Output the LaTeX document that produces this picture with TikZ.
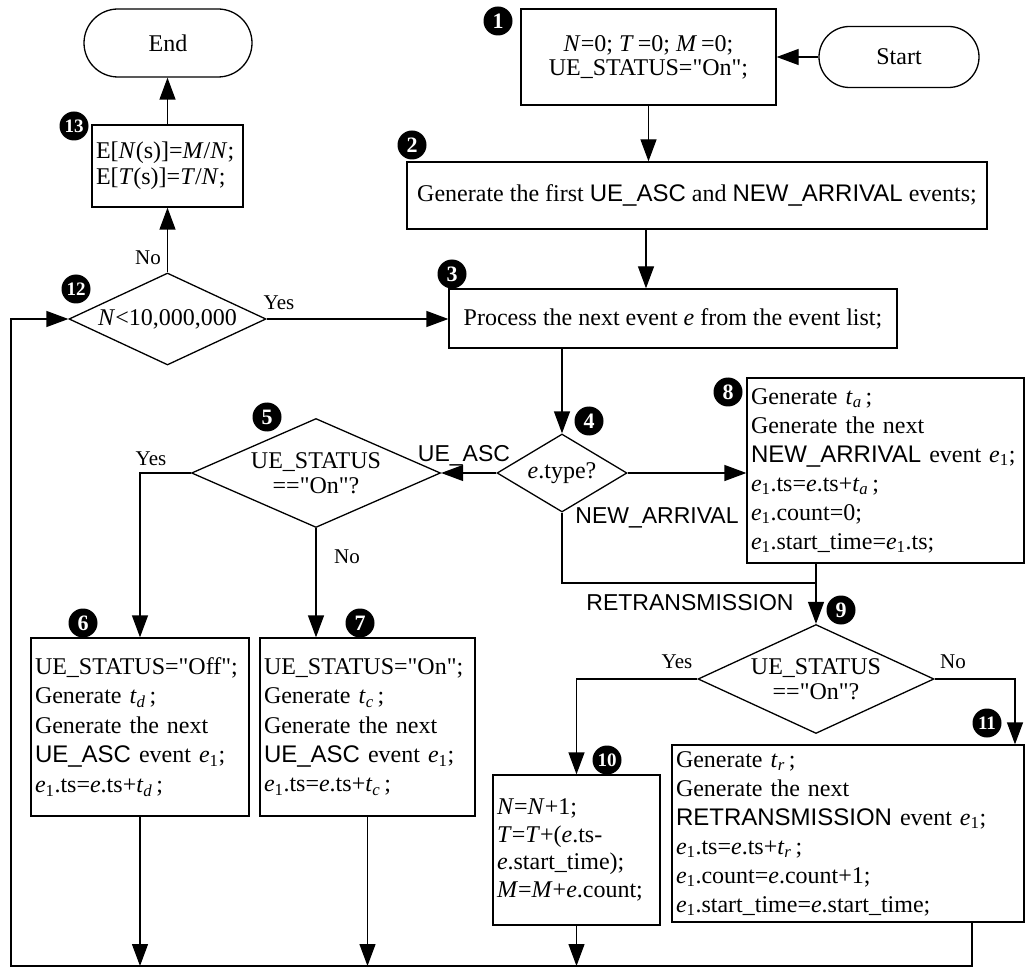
\documentclass[tikz,border=0pt]{standalone}
\usepackage{fontspec}
\setmainfont{Liberation Serif}[Ligatures=TeXOff]
\setsansfont{Liberation Sans}[Ligatures=TeXOff]
\usetikzlibrary{arrows.meta,shapes.geometric}
\newcommand{\eone}{\textit{e}\textsubscript{1}}
\newcommand{\tv}[1]{\textit{t}\textsubscript{\textit{#1}}}
\begin{document}
\begin{tikzpicture}[x=1pt,y=-1pt,line width=1.3pt,
  every node/.append style={font=\fontsize{24}{29}\selectfont},
  arr/.style={-{Triangle[length=22pt,width=16pt]}},
  box/.style={draw,rectangle,inner xsep=4pt,inner ysep=0pt,align=left},
  cbox/.style={draw,rectangle,inner sep=0pt,align=center},
  term/.style={draw,rectangle,inner sep=0pt},
  dia/.style={draw,diamond,inner sep=0pt,align=center},
  badge/.style={circle,fill=black,text=white,inner sep=0pt,minimum size=29pt,font=\bfseries\fontsize{22}{22}\selectfont},
  badgetwo/.style={badge,font=\bfseries\fontsize{19}{19}\selectfont},
  lab/.style={anchor=base,inner sep=0pt,font=\fontsize{21}{24}\selectfont},
  sanslab/.style={anchor=base,inner sep=0pt,font=\sffamily\fontsize{23}{26}\selectfont}]
\path[fill=white,use as bounding box] (0,0) rectangle (1026,968);

% terminals
\node[term,rounded corners=34pt,minimum width=168pt,minimum height=68pt] (End) at (168,43) {End};
\node[term,rounded corners=30.5pt,minimum width=160pt,minimum height=61pt] (Start) at (899,57) {Start};

% boxes
\node[cbox,minimum width=255pt,minimum height=96pt,font=\fontsize{24}{24}\selectfont] (B1) at (648.5,57)
  {\textit{N}=0; \textit{T}\,=0; \textit{M}\,=0;\\UE\_STATUS="On";};
\node[cbox,minimum width=580pt,minimum height=67pt] (B2) at (697,195.5)
  {Generate the first \textsf{UE\_ASC} and \textsf{NEW\_ARRIVAL} events;};
\node[cbox,minimum width=448pt,minimum height=59pt] (B3) at (673,318.5)
  {Process the next event \textit{e} from the event list;};
\node[box,minimum width=218pt,minimum height=178pt,text width=210pt,font=\fontsize{24}{29.5}\selectfont] (B6) at (140,727)
  {UE\_STATUS="Off";\\Generate \tv{d}\,;\\Generate the next\\\textsf{UE\_ASC} event \eone;\\\eone.ts=\textit{e}.ts+\tv{d}\,;};
\node[box,minimum width=215pt,minimum height=178pt,text width=207pt,font=\fontsize{24}{29.5}\selectfont] (B7) at (367.5,727)
  {UE\_STATUS="On";\\Generate \tv{c}\,;\\Generate the next\\\textsf{UE\_ASC} event \eone;\\\eone.ts=\textit{e}.ts+\tv{c}\,;};
\node[box,minimum width=277pt,minimum height=185pt,text width=269pt] (B8) at (885.5,470.5)
  {Generate \tv{a}\,;\\Generate the next\\\textsf{NEW\_ARRIVAL} event \eone;\\\eone.ts=\textit{e}.ts+\tv{a}\,;\\\eone.count=0;\\\eone.start\_time=\eone.ts;};
\node[box,minimum width=167pt,minimum height=150pt,text width=159pt,font=\fontsize{24}{27.5}\selectfont] (B10) at (576.5,850)
  {\textit{N}=\textit{N}+1;\\\textit{T}=\textit{T}+(\textit{e}.ts-\\\textit{e}.start\_time);\\\textit{M}=\textit{M}+\textit{e}.count;};
\node[box,minimum width=352pt,minimum height=177pt,text width=344pt] (B11) at (848,833.5)
  {Generate \tv{r}\,;\\Generate the next\\\textsf{RETRANSMISSION} event \eone;\\\eone.ts=\textit{e}.ts+\tv{r}\,;\\\eone.count=\textit{e}.count+1;\\\eone.start\_time=\textit{e}.start\_time;};
\node[box,minimum width=151pt,minimum height=82pt,text width=143pt,font=\fontsize{24}{26}\selectfont] (B13) at (167.5,166)
  {E[\textit{N}(s)]=\textit{M}/\textit{N};\\E[\textit{T}(s)]=\textit{T}/\textit{N};};

% decisions
\node[dia,aspect=1.67,minimum width=130pt,minimum height=78pt] (D4) at (562,473) {\textit{e}.type?};
\node[dia,aspect=2.27,minimum width=249pt,minimum height=109pt,font=\fontsize{24}{25}\selectfont] (D5) at (316,473) {UE\_STATUS\\=="On"?};
\node[dia,aspect=2.17,minimum width=236pt,minimum height=109pt,font=\fontsize{24}{25}\selectfont] (D9) at (816,679) {UE\_STATUS\\=="On"?};
\node[dia,aspect=2.14,minimum width=197pt,minimum height=92pt] (D12) at (167.5,319) {\textit{N}<10,000,000};

% badges
\node[badge] (n1) at (498,21) {1};
\node[badge] (n2) at (412,145) {2};
\node[badge] (n3) at (452,274) {3};
\node[badge] (n4) at (589,421) {4};
\node[badge] (n5) at (267,417) {5};
\node[badge] (n6) at (83,623) {6};
\node[badge] (n7) at (360,623) {7};
\node[badge] (n8) at (728,392) {8};
\node[badge] (n9) at (841,610) {9};
\node[badgetwo] (n10) at (607,760) {10};
\node[badgetwo] (n11) at (987,723) {11};
\node[badgetwo] (n12) at (76,289) {12};
\node[badgetwo] (n13) at (74,126) {13};

% helper coordinates
\coordinate (BL) at (11,966);
\coordinate (c23) at (646,0);
\coordinate (J) at (816,583);
\coordinate (R11) at (1015,0);
\coordinate (O11) at (972,0);

% connectors
\draw[arr] (Start.west) -- (B1.east);
\draw[arr] (B1.south) -- (B1.south |- B2.north);
\draw[arr] (B2.south -| c23) -- (B3.north -| c23);
\draw[arr] (B3.south -| D4.north) -- (D4.north);
\draw[arr] (D4.east) -- (D4.east -| B8.west);
\draw[arr] (D4.west) -- (D5.east);
\draw (D4.south) |- (J);
\draw[arr] (B8.south -| J) -- (D9.north);
\draw[arr] (D5.west) -| (B6.north);
\draw[arr] (D5.south) -- (D5.south |- B7.north);
\draw[arr] (B6.south) -- (B6.south |- BL);
\draw[arr] (B7.south) -- (B7.south |- BL);
\draw[arr] (D9.west) -| (B10.north);
\draw[arr] (D9.east) -| (B11.north -| R11);
\draw[arr] (B10.south) -- (B10.south |- BL);
\draw[arr] (B11.south -| O11) |- (BL) |- (D12.west);
\draw[arr] (D12.east) -- (D12.east -| B3.west);
\draw[arr] (D12.north) -- (B13.south);
\draw[arr] (B13.north) -- (B13.north |- End.south);

% labels
\node[lab] (no12) at (148,265) {No};
\node[lab] (yes12) at (279,310) {Yes};
\node[sanslab] (lUE) at (464,461) {UE\_ASC};
\node[lab] (yes5) at (151,465) {Yes};
\node[lab] (no5) at (347,563) {No};
\node[sanslab] (lNA) at (657,523) {NEW\_ARRIVAL};
\node[sanslab] (lRT) at (690,610) {RETRANSMISSION};
\node[lab] (yes9) at (677,668) {Yes};
\node[lab] (no9) at (953,668) {No};
\end{tikzpicture}
\end{document}
